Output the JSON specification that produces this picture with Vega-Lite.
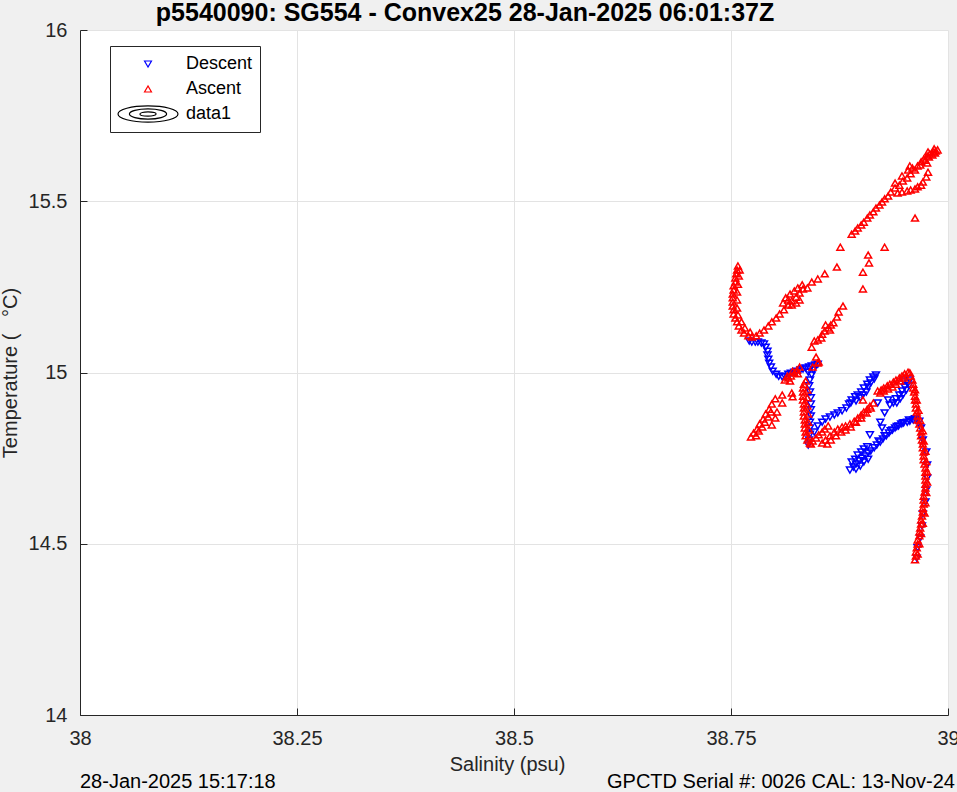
{
"$schema": "https://vega.github.io/schema/vega-lite/v6.json",
"width": 868, "height": 685,
"autosize": {"type": "none"},
"padding": {"left": 80, "top": 30, "right": 9, "bottom": 77},
"background": "#f0f0f0",
"config": {
  "font": "Liberation Sans",
  "view": {"stroke": null, "fill": "#ffffff"},
  "axis": {"labelFont": "Liberation Sans", "labelFontSize": 20, "labelColor": "#262626", "titleFont": "Liberation Sans", "titleFontSize": 20, "titleFontWeight": "normal", "titleColor": "#262626", "domainColor": "#262626", "domainWidth": 1, "tickColor": "#262626", "tickSize": -7, "tickWidth": 1, "gridColor": "#e3e3e3", "gridWidth": 1, "labelFlush": false, "labelOverlap": false, "labelPadding": 20}
},
"title": {"text": "p5540090: SG554 - Convex25 28-Jan-2025 06:01:37Z", "font": "Liberation Sans", "fontSize": 25, "fontWeight": "bold", "color": "#000000", "anchor": "middle", "frame": "group", "dx": -49, "dy": 12, "offset": 6},
"layer": [
{
"data": {"values": [
{"sal":38.771,"temp":15.092,"cast":"Descent"},{"sal":38.774,"temp":15.089,"cast":"Descent"},{"sal":38.778,"temp":15.089,"cast":"Descent"},{"sal":38.781,"temp":15.089,"cast":"Descent"},{"sal":38.785,"temp":15.086,"cast":"Descent"},{"sal":38.788,"temp":15.083,"cast":"Descent"},{"sal":38.790,"temp":15.074,"cast":"Descent"},{"sal":38.792,"temp":15.062,"cast":"Descent"},{"sal":38.792,"temp":15.051,"cast":"Descent"},{"sal":38.793,"temp":15.039,"cast":"Descent"},{"sal":38.794,"temp":15.027,"cast":"Descent"},{"sal":38.796,"temp":15.016,"cast":"Descent"},{"sal":38.798,"temp":15.004,"cast":"Descent"},{"sal":38.802,"temp":14.995,"cast":"Descent"},{"sal":38.805,"temp":14.989,"cast":"Descent"},{"sal":38.809,"temp":14.987,"cast":"Descent"},{"sal":38.812,"temp":14.989,"cast":"Descent"},{"sal":38.816,"temp":14.995,"cast":"Descent"},{"sal":38.819,"temp":14.998,"cast":"Descent"},{"sal":38.823,"temp":15.001,"cast":"Descent"},{"sal":38.826,"temp":15.004,"cast":"Descent"},{"sal":38.830,"temp":15.007,"cast":"Descent"},{"sal":38.833,"temp":15.010,"cast":"Descent"},{"sal":38.836,"temp":15.013,"cast":"Descent"},{"sal":38.840,"temp":15.016,"cast":"Descent"},{"sal":38.843,"temp":15.019,"cast":"Descent"},{"sal":38.847,"temp":15.022,"cast":"Descent"},{"sal":38.850,"temp":15.024,"cast":"Descent"},
{"sal":38.839,"temp":15.001,"cast":"Descent"},{"sal":38.843,"temp":14.993,"cast":"Descent"},{"sal":38.841,"temp":14.978,"cast":"Descent"},{"sal":38.845,"temp":15.007,"cast":"Descent"},{"sal":38.840,"temp":14.961,"cast":"Descent"},{"sal":38.841,"temp":14.943,"cast":"Descent"},{"sal":38.842,"temp":14.926,"cast":"Descent"},{"sal":38.842,"temp":14.908,"cast":"Descent"},{"sal":38.842,"temp":14.891,"cast":"Descent"},{"sal":38.842,"temp":14.873,"cast":"Descent"},{"sal":38.841,"temp":14.855,"cast":"Descent"},{"sal":38.841,"temp":14.838,"cast":"Descent"},{"sal":38.841,"temp":14.820,"cast":"Descent"},{"sal":38.840,"temp":14.803,"cast":"Descent"},{"sal":38.839,"temp":14.788,"cast":"Descent"},
{"sal":38.846,"temp":14.826,"cast":"Descent"},{"sal":38.850,"temp":14.844,"cast":"Descent"},{"sal":38.855,"temp":14.855,"cast":"Descent"},{"sal":38.859,"temp":14.864,"cast":"Descent"},{"sal":38.864,"temp":14.870,"cast":"Descent"},{"sal":38.869,"temp":14.876,"cast":"Descent"},{"sal":38.873,"temp":14.882,"cast":"Descent"},{"sal":38.878,"temp":14.888,"cast":"Descent"},{"sal":38.883,"temp":14.896,"cast":"Descent"},{"sal":38.886,"temp":14.908,"cast":"Descent"},{"sal":38.889,"temp":14.920,"cast":"Descent"},{"sal":38.893,"temp":14.929,"cast":"Descent"},{"sal":38.896,"temp":14.934,"cast":"Descent"},{"sal":38.900,"temp":14.943,"cast":"Descent"},{"sal":38.903,"temp":14.955,"cast":"Descent"},{"sal":38.907,"temp":14.966,"cast":"Descent"},{"sal":38.910,"temp":14.978,"cast":"Descent"},{"sal":38.914,"temp":14.987,"cast":"Descent"},{"sal":38.917,"temp":14.993,"cast":"Descent"},{"sal":38.888,"temp":14.911,"cast":"Descent"},{"sal":38.894,"temp":14.917,"cast":"Descent"},{"sal":38.899,"temp":14.926,"cast":"Descent"},{"sal":38.902,"temp":14.934,"cast":"Descent"},{"sal":38.906,"temp":14.943,"cast":"Descent"},{"sal":38.908,"temp":14.958,"cast":"Descent"},{"sal":38.911,"temp":14.969,"cast":"Descent"},{"sal":38.915,"temp":14.981,"cast":"Descent"},
{"sal":38.910,"temp":14.818,"cast":"Descent"},{"sal":38.922,"temp":14.855,"cast":"Descent"},{"sal":38.924,"temp":14.838,"cast":"Descent"},{"sal":38.927,"temp":14.882,"cast":"Descent"},{"sal":38.933,"temp":14.905,"cast":"Descent"},{"sal":38.931,"temp":14.920,"cast":"Descent"},{"sal":38.919,"temp":14.911,"cast":"Descent"},{"sal":38.907,"temp":14.783,"cast":"Descent"},
{"sal":38.937,"temp":14.911,"cast":"Descent"},{"sal":38.940,"temp":14.923,"cast":"Descent"},{"sal":38.944,"temp":14.934,"cast":"Descent"},{"sal":38.947,"temp":14.946,"cast":"Descent"},{"sal":38.950,"temp":14.958,"cast":"Descent"},{"sal":38.954,"temp":14.969,"cast":"Descent"},{"sal":38.941,"temp":14.911,"cast":"Descent"},{"sal":38.945,"temp":14.923,"cast":"Descent"},{"sal":38.948,"temp":14.934,"cast":"Descent"},{"sal":38.952,"temp":14.949,"cast":"Descent"},{"sal":38.955,"temp":14.961,"cast":"Descent"},{"sal":38.949,"temp":14.975,"cast":"Descent"},{"sal":38.956,"temp":14.978,"cast":"Descent"},
{"sal":38.887,"temp":14.715,"cast":"Descent"},{"sal":38.891,"temp":14.724,"cast":"Descent"},{"sal":38.894,"temp":14.733,"cast":"Descent"},{"sal":38.898,"temp":14.742,"cast":"Descent"},{"sal":38.901,"temp":14.750,"cast":"Descent"},{"sal":38.905,"temp":14.756,"cast":"Descent"},{"sal":38.908,"temp":14.765,"cast":"Descent"},{"sal":38.911,"temp":14.771,"cast":"Descent"},{"sal":38.915,"temp":14.780,"cast":"Descent"},{"sal":38.918,"temp":14.788,"cast":"Descent"},{"sal":38.922,"temp":14.797,"cast":"Descent"},{"sal":38.925,"temp":14.806,"cast":"Descent"},{"sal":38.929,"temp":14.815,"cast":"Descent"},{"sal":38.932,"temp":14.823,"cast":"Descent"},{"sal":38.936,"temp":14.832,"cast":"Descent"},{"sal":38.939,"temp":14.838,"cast":"Descent"},{"sal":38.943,"temp":14.844,"cast":"Descent"},{"sal":38.946,"temp":14.850,"cast":"Descent"},{"sal":38.949,"temp":14.853,"cast":"Descent"},{"sal":38.953,"temp":14.855,"cast":"Descent"},{"sal":38.956,"temp":14.858,"cast":"Descent"},{"sal":38.960,"temp":14.861,"cast":"Descent"},{"sal":38.963,"temp":14.861,"cast":"Descent"},{"sal":38.967,"temp":14.858,"cast":"Descent"},{"sal":38.889,"temp":14.739,"cast":"Descent"},{"sal":38.893,"temp":14.747,"cast":"Descent"},{"sal":38.896,"temp":14.759,"cast":"Descent"},{"sal":38.900,"temp":14.768,"cast":"Descent"},{"sal":38.903,"temp":14.777,"cast":"Descent"},{"sal":38.894,"temp":14.718,"cast":"Descent"},{"sal":38.899,"temp":14.727,"cast":"Descent"},{"sal":38.903,"temp":14.739,"cast":"Descent"},{"sal":38.908,"temp":14.747,"cast":"Descent"},
{"sal":38.920,"temp":14.800,"cast":"Descent"},{"sal":38.927,"temp":14.815,"cast":"Descent"},{"sal":38.934,"temp":14.830,"cast":"Descent"},{"sal":38.941,"temp":14.842,"cast":"Descent"},{"sal":38.948,"temp":14.852,"cast":"Descent"},{"sal":38.955,"temp":14.861,"cast":"Descent"},{"sal":38.962,"temp":14.865,"cast":"Descent"},
{"sal":38.969,"temp":14.838,"cast":"Descent"},{"sal":38.971,"temp":14.803,"cast":"Descent"},{"sal":38.975,"temp":14.768,"cast":"Descent"},{"sal":38.976,"temp":14.730,"cast":"Descent"},{"sal":38.976,"temp":14.692,"cast":"Descent"},{"sal":38.975,"temp":14.657,"cast":"Descent"},{"sal":38.974,"temp":14.622,"cast":"Descent"},{"sal":38.971,"temp":14.587,"cast":"Descent"},{"sal":38.970,"temp":14.552,"cast":"Descent"},{"sal":38.968,"temp":14.517,"cast":"Descent"},{"sal":38.965,"temp":14.488,"cast":"Descent"},{"sal":38.964,"temp":14.458,"cast":"Descent"},
{"sal":38.962,"temp":14.453,"cast":"Ascent"},{"sal":38.963,"temp":14.464,"cast":"Ascent"},{"sal":38.963,"temp":14.476,"cast":"Ascent"},{"sal":38.964,"temp":14.488,"cast":"Ascent"},{"sal":38.965,"temp":14.499,"cast":"Ascent"},{"sal":38.965,"temp":14.511,"cast":"Ascent"},{"sal":38.967,"temp":14.523,"cast":"Ascent"},{"sal":38.967,"temp":14.534,"cast":"Ascent"},{"sal":38.968,"temp":14.546,"cast":"Ascent"},{"sal":38.969,"temp":14.558,"cast":"Ascent"},{"sal":38.969,"temp":14.569,"cast":"Ascent"},{"sal":38.970,"temp":14.581,"cast":"Ascent"},{"sal":38.971,"temp":14.593,"cast":"Ascent"},{"sal":38.971,"temp":14.604,"cast":"Ascent"},{"sal":38.972,"temp":14.616,"cast":"Ascent"},{"sal":38.972,"temp":14.628,"cast":"Ascent"},{"sal":38.972,"temp":14.639,"cast":"Ascent"},{"sal":38.973,"temp":14.651,"cast":"Ascent"},{"sal":38.974,"temp":14.663,"cast":"Ascent"},{"sal":38.974,"temp":14.674,"cast":"Ascent"},{"sal":38.974,"temp":14.686,"cast":"Ascent"},{"sal":38.974,"temp":14.698,"cast":"Ascent"},{"sal":38.974,"temp":14.709,"cast":"Ascent"},{"sal":38.974,"temp":14.721,"cast":"Ascent"},{"sal":38.973,"temp":14.733,"cast":"Ascent"},{"sal":38.972,"temp":14.745,"cast":"Ascent"},{"sal":38.972,"temp":14.756,"cast":"Ascent"},{"sal":38.972,"temp":14.768,"cast":"Ascent"},{"sal":38.971,"temp":14.780,"cast":"Ascent"},{"sal":38.971,"temp":14.791,"cast":"Ascent"},{"sal":38.970,"temp":14.803,"cast":"Ascent"},{"sal":38.969,"temp":14.815,"cast":"Ascent"},{"sal":38.969,"temp":14.826,"cast":"Ascent"},{"sal":38.968,"temp":14.838,"cast":"Ascent"},{"sal":38.967,"temp":14.850,"cast":"Ascent"},{"sal":38.965,"temp":14.861,"cast":"Ascent"},{"sal":38.965,"temp":14.873,"cast":"Ascent"},{"sal":38.964,"temp":14.885,"cast":"Ascent"},{"sal":38.963,"temp":14.896,"cast":"Ascent"},{"sal":38.963,"temp":14.908,"cast":"Ascent"},{"sal":38.962,"temp":14.920,"cast":"Ascent"},{"sal":38.962,"temp":14.931,"cast":"Ascent"},{"sal":38.961,"temp":14.943,"cast":"Ascent"},{"sal":38.960,"temp":14.955,"cast":"Ascent"},{"sal":38.960,"temp":14.966,"cast":"Ascent"},{"sal":38.959,"temp":14.978,"cast":"Ascent"},{"sal":38.957,"temp":14.990,"cast":"Ascent"},{"sal":38.956,"temp":14.999,"cast":"Ascent"},{"sal":38.954,"temp":15.001,"cast":"Ascent"},
{"sal":38.965,"temp":14.470,"cast":"Ascent"},{"sal":38.967,"temp":14.500,"cast":"Ascent"},{"sal":38.969,"temp":14.530,"cast":"Ascent"},{"sal":38.971,"temp":14.560,"cast":"Ascent"},{"sal":38.973,"temp":14.590,"cast":"Ascent"},{"sal":38.974,"temp":14.620,"cast":"Ascent"},{"sal":38.975,"temp":14.650,"cast":"Ascent"},{"sal":38.976,"temp":14.680,"cast":"Ascent"},{"sal":38.976,"temp":14.710,"cast":"Ascent"},{"sal":38.975,"temp":14.740,"cast":"Ascent"},{"sal":38.974,"temp":14.770,"cast":"Ascent"},{"sal":38.972,"temp":14.800,"cast":"Ascent"},{"sal":38.971,"temp":14.830,"cast":"Ascent"},{"sal":38.968,"temp":14.860,"cast":"Ascent"},{"sal":38.966,"temp":14.890,"cast":"Ascent"},{"sal":38.964,"temp":14.920,"cast":"Ascent"},{"sal":38.962,"temp":14.950,"cast":"Ascent"},
{"sal":38.950,"temp":14.996,"cast":"Ascent"},{"sal":38.947,"temp":14.990,"cast":"Ascent"},{"sal":38.944,"temp":14.984,"cast":"Ascent"},{"sal":38.940,"temp":14.978,"cast":"Ascent"},{"sal":38.937,"temp":14.972,"cast":"Ascent"},{"sal":38.933,"temp":14.966,"cast":"Ascent"},{"sal":38.930,"temp":14.961,"cast":"Ascent"},{"sal":38.926,"temp":14.955,"cast":"Ascent"},{"sal":38.923,"temp":14.949,"cast":"Ascent"},{"sal":38.919,"temp":14.946,"cast":"Ascent"},{"sal":38.949,"temp":14.984,"cast":"Ascent"},{"sal":38.945,"temp":14.975,"cast":"Ascent"},{"sal":38.940,"temp":14.966,"cast":"Ascent"},{"sal":38.936,"temp":14.958,"cast":"Ascent"},{"sal":38.931,"temp":14.952,"cast":"Ascent"},{"sal":38.926,"temp":14.946,"cast":"Ascent"},{"sal":38.922,"temp":14.940,"cast":"Ascent"},{"sal":38.902,"temp":14.920,"cast":"Ascent"},
{"sal":38.914,"temp":14.911,"cast":"Ascent"},{"sal":38.910,"temp":14.902,"cast":"Ascent"},{"sal":38.907,"temp":14.893,"cast":"Ascent"},{"sal":38.903,"temp":14.885,"cast":"Ascent"},{"sal":38.900,"temp":14.876,"cast":"Ascent"},{"sal":38.896,"temp":14.867,"cast":"Ascent"},{"sal":38.892,"temp":14.858,"cast":"Ascent"},{"sal":38.887,"temp":14.850,"cast":"Ascent"},{"sal":38.882,"temp":14.844,"cast":"Ascent"},{"sal":38.878,"temp":14.841,"cast":"Ascent"},{"sal":38.873,"temp":14.835,"cast":"Ascent"},{"sal":38.869,"temp":14.826,"cast":"Ascent"},{"sal":38.864,"temp":14.815,"cast":"Ascent"},{"sal":38.859,"temp":14.803,"cast":"Ascent"},{"sal":38.855,"temp":14.794,"cast":"Ascent"},{"sal":38.911,"temp":14.896,"cast":"Ascent"},{"sal":38.906,"temp":14.882,"cast":"Ascent"},{"sal":38.900,"temp":14.867,"cast":"Ascent"},{"sal":38.894,"temp":14.855,"cast":"Ascent"},{"sal":38.888,"temp":14.841,"cast":"Ascent"},{"sal":38.882,"temp":14.832,"cast":"Ascent"},{"sal":38.877,"temp":14.826,"cast":"Ascent"},{"sal":38.871,"temp":14.815,"cast":"Ascent"},{"sal":38.865,"temp":14.803,"cast":"Ascent"},{"sal":38.861,"temp":14.791,"cast":"Ascent"},
{"sal":38.841,"temp":14.794,"cast":"Ascent"},{"sal":38.844,"temp":14.800,"cast":"Ascent"},{"sal":38.848,"temp":14.809,"cast":"Ascent"},{"sal":38.851,"temp":14.818,"cast":"Ascent"},{"sal":38.855,"temp":14.826,"cast":"Ascent"},{"sal":38.858,"temp":14.835,"cast":"Ascent"},{"sal":38.862,"temp":14.844,"cast":"Ascent"},{"sal":38.842,"temp":14.791,"cast":"Ascent"},
{"sal":38.838,"temp":14.803,"cast":"Ascent"},{"sal":38.836,"temp":14.815,"cast":"Ascent"},{"sal":38.836,"temp":14.826,"cast":"Ascent"},{"sal":38.835,"temp":14.838,"cast":"Ascent"},{"sal":38.835,"temp":14.850,"cast":"Ascent"},{"sal":38.835,"temp":14.861,"cast":"Ascent"},{"sal":38.834,"temp":14.873,"cast":"Ascent"},{"sal":38.834,"temp":14.885,"cast":"Ascent"},{"sal":38.834,"temp":14.896,"cast":"Ascent"},{"sal":38.834,"temp":14.908,"cast":"Ascent"},{"sal":38.833,"temp":14.920,"cast":"Ascent"},{"sal":38.833,"temp":14.931,"cast":"Ascent"},{"sal":38.833,"temp":14.943,"cast":"Ascent"},{"sal":38.833,"temp":14.955,"cast":"Ascent"},{"sal":38.834,"temp":14.966,"cast":"Ascent"},{"sal":38.836,"temp":14.975,"cast":"Ascent"},{"sal":38.840,"temp":14.809,"cast":"Ascent"},{"sal":38.840,"temp":14.832,"cast":"Ascent"},{"sal":38.839,"temp":14.855,"cast":"Ascent"},{"sal":38.839,"temp":14.879,"cast":"Ascent"},{"sal":38.838,"temp":14.902,"cast":"Ascent"},{"sal":38.838,"temp":14.926,"cast":"Ascent"},{"sal":38.838,"temp":14.949,"cast":"Ascent"},
{"sal":38.773,"temp":14.812,"cast":"Ascent"},{"sal":38.776,"temp":14.823,"cast":"Ascent"},{"sal":38.780,"temp":14.835,"cast":"Ascent"},{"sal":38.783,"temp":14.850,"cast":"Ascent"},{"sal":38.787,"temp":14.864,"cast":"Ascent"},{"sal":38.790,"temp":14.879,"cast":"Ascent"},{"sal":38.794,"temp":14.893,"cast":"Ascent"},{"sal":38.797,"temp":14.908,"cast":"Ascent"},{"sal":38.801,"temp":14.923,"cast":"Ascent"},{"sal":38.779,"temp":14.815,"cast":"Ascent"},{"sal":38.782,"temp":14.829,"cast":"Ascent"},{"sal":38.786,"temp":14.841,"cast":"Ascent"},{"sal":38.789,"temp":14.855,"cast":"Ascent"},{"sal":38.793,"temp":14.870,"cast":"Ascent"},{"sal":38.796,"temp":14.885,"cast":"Ascent"},{"sal":38.809,"temp":14.934,"cast":"Ascent"},{"sal":38.809,"temp":14.911,"cast":"Ascent"},{"sal":38.820,"temp":14.940,"cast":"Ascent"},{"sal":38.821,"temp":14.929,"cast":"Ascent"},{"sal":38.803,"temp":14.885,"cast":"Ascent"},{"sal":38.801,"temp":14.867,"cast":"Ascent"},{"sal":38.797,"temp":14.847,"cast":"Ascent"},
{"sal":38.812,"temp":14.978,"cast":"Ascent"},{"sal":38.816,"temp":14.984,"cast":"Ascent"},{"sal":38.819,"temp":14.990,"cast":"Ascent"},{"sal":38.823,"temp":14.999,"cast":"Ascent"},{"sal":38.826,"temp":15.007,"cast":"Ascent"},{"sal":38.829,"temp":15.016,"cast":"Ascent"},{"sal":38.815,"temp":14.990,"cast":"Ascent"},{"sal":38.821,"temp":15.004,"cast":"Ascent"},{"sal":38.818,"temp":14.975,"cast":"Ascent"},{"sal":38.827,"temp":14.996,"cast":"Ascent"},{"sal":38.850,"temp":15.028,"cast":"Ascent"},{"sal":38.844,"temp":15.016,"cast":"Ascent"},{"sal":38.848,"temp":15.045,"cast":"Ascent"},{"sal":38.851,"temp":15.031,"cast":"Ascent"},{"sal":38.843,"temp":15.074,"cast":"Ascent"},
{"sal":38.855,"temp":15.112,"cast":"Ascent"},{"sal":38.858,"temp":15.121,"cast":"Ascent"},{"sal":38.862,"temp":15.130,"cast":"Ascent"},{"sal":38.865,"temp":15.139,"cast":"Ascent"},{"sal":38.868,"temp":15.145,"cast":"Ascent"},{"sal":38.859,"temp":15.139,"cast":"Ascent"},{"sal":38.864,"temp":15.124,"cast":"Ascent"},{"sal":38.846,"temp":15.092,"cast":"Ascent"},{"sal":38.850,"temp":15.095,"cast":"Ascent"},{"sal":38.854,"temp":15.101,"cast":"Ascent"},{"sal":38.872,"temp":15.162,"cast":"Ascent"},{"sal":38.874,"temp":15.177,"cast":"Ascent"},{"sal":38.879,"temp":15.194,"cast":"Ascent"},{"sal":38.902,"temp":15.244,"cast":"Ascent"},{"sal":38.876,"temp":15.366,"cast":"Ascent"},{"sal":38.908,"temp":15.343,"cast":"Ascent"},{"sal":38.909,"temp":15.320,"cast":"Ascent"},{"sal":38.902,"temp":15.293,"cast":"Ascent"},{"sal":38.927,"temp":15.366,"cast":"Ascent"},{"sal":38.962,"temp":15.451,"cast":"Ascent"},{"sal":38.872,"temp":15.308,"cast":"Ascent"},{"sal":38.858,"temp":15.288,"cast":"Ascent"},{"sal":38.850,"temp":15.273,"cast":"Ascent"},{"sal":38.843,"temp":15.264,"cast":"Ascent"},{"sal":38.838,"temp":15.247,"cast":"Ascent"},
{"sal":38.758,"temp":15.311,"cast":"Ascent"},{"sal":38.757,"temp":15.299,"cast":"Ascent"},{"sal":38.756,"temp":15.288,"cast":"Ascent"},{"sal":38.755,"temp":15.276,"cast":"Ascent"},{"sal":38.755,"temp":15.264,"cast":"Ascent"},{"sal":38.753,"temp":15.253,"cast":"Ascent"},{"sal":38.753,"temp":15.241,"cast":"Ascent"},{"sal":38.752,"temp":15.229,"cast":"Ascent"},{"sal":38.752,"temp":15.218,"cast":"Ascent"},{"sal":38.752,"temp":15.206,"cast":"Ascent"},{"sal":38.752,"temp":15.194,"cast":"Ascent"},{"sal":38.753,"temp":15.183,"cast":"Ascent"},{"sal":38.753,"temp":15.171,"cast":"Ascent"},{"sal":38.755,"temp":15.159,"cast":"Ascent"},{"sal":38.757,"temp":15.148,"cast":"Ascent"},{"sal":38.759,"temp":15.136,"cast":"Ascent"},{"sal":38.762,"temp":15.124,"cast":"Ascent"},{"sal":38.765,"temp":15.115,"cast":"Ascent"},{"sal":38.770,"temp":15.107,"cast":"Ascent"},{"sal":38.774,"temp":15.104,"cast":"Ascent"},{"sal":38.779,"temp":15.107,"cast":"Ascent"},{"sal":38.760,"temp":15.299,"cast":"Ascent"},{"sal":38.759,"temp":15.282,"cast":"Ascent"},{"sal":38.758,"temp":15.258,"cast":"Ascent"},{"sal":38.757,"temp":15.235,"cast":"Ascent"},{"sal":38.757,"temp":15.212,"cast":"Ascent"},{"sal":38.757,"temp":15.188,"cast":"Ascent"},{"sal":38.758,"temp":15.168,"cast":"Ascent"},{"sal":38.762,"temp":15.148,"cast":"Ascent"},{"sal":38.766,"temp":15.130,"cast":"Ascent"},{"sal":38.772,"temp":15.118,"cast":"Ascent"},
{"sal":38.783,"temp":15.115,"cast":"Ascent"},{"sal":38.788,"temp":15.124,"cast":"Ascent"},{"sal":38.793,"temp":15.136,"cast":"Ascent"},{"sal":38.797,"temp":15.148,"cast":"Ascent"},{"sal":38.802,"temp":15.159,"cast":"Ascent"},{"sal":38.806,"temp":15.171,"cast":"Ascent"},{"sal":38.811,"temp":15.183,"cast":"Ascent"},{"sal":38.816,"temp":15.197,"cast":"Ascent"},{"sal":38.820,"temp":15.209,"cast":"Ascent"},{"sal":38.825,"temp":15.220,"cast":"Ascent"},{"sal":38.829,"temp":15.232,"cast":"Ascent"},{"sal":38.833,"temp":15.244,"cast":"Ascent"},{"sal":38.813,"temp":15.218,"cast":"Ascent"},{"sal":38.818,"temp":15.229,"cast":"Ascent"},{"sal":38.823,"temp":15.238,"cast":"Ascent"},{"sal":38.827,"temp":15.247,"cast":"Ascent"},{"sal":38.832,"temp":15.256,"cast":"Ascent"},{"sal":38.820,"temp":15.197,"cast":"Ascent"},{"sal":38.825,"temp":15.203,"cast":"Ascent"},{"sal":38.810,"temp":15.203,"cast":"Ascent"},{"sal":38.829,"temp":15.212,"cast":"Ascent"},{"sal":38.816,"temp":15.212,"cast":"Ascent"},
{"sal":38.889,"temp":15.404,"cast":"Ascent"},{"sal":38.893,"temp":15.413,"cast":"Ascent"},{"sal":38.896,"temp":15.422,"cast":"Ascent"},{"sal":38.900,"temp":15.431,"cast":"Ascent"},{"sal":38.903,"temp":15.439,"cast":"Ascent"},{"sal":38.907,"temp":15.451,"cast":"Ascent"},{"sal":38.910,"temp":15.460,"cast":"Ascent"},{"sal":38.914,"temp":15.469,"cast":"Ascent"},{"sal":38.917,"temp":15.480,"cast":"Ascent"},{"sal":38.921,"temp":15.489,"cast":"Ascent"},{"sal":38.924,"temp":15.498,"cast":"Ascent"},{"sal":38.927,"temp":15.507,"cast":"Ascent"},{"sal":38.931,"temp":15.515,"cast":"Ascent"},{"sal":38.934,"temp":15.527,"cast":"Ascent"},{"sal":38.939,"temp":15.539,"cast":"Ascent"},{"sal":38.944,"temp":15.547,"cast":"Ascent"},{"sal":38.948,"temp":15.559,"cast":"Ascent"},{"sal":38.953,"temp":15.568,"cast":"Ascent"},{"sal":38.957,"temp":15.580,"cast":"Ascent"},{"sal":38.962,"temp":15.591,"cast":"Ascent"},{"sal":38.965,"temp":15.603,"cast":"Ascent"},{"sal":38.969,"temp":15.615,"cast":"Ascent"},{"sal":38.972,"temp":15.623,"cast":"Ascent"},{"sal":38.976,"temp":15.632,"cast":"Ascent"},{"sal":38.979,"temp":15.638,"cast":"Ascent"},{"sal":38.983,"temp":15.644,"cast":"Ascent"},{"sal":38.986,"temp":15.647,"cast":"Ascent"},{"sal":38.974,"temp":15.620,"cast":"Ascent"},{"sal":38.978,"temp":15.629,"cast":"Ascent"},{"sal":38.982,"temp":15.635,"cast":"Ascent"},{"sal":38.985,"temp":15.641,"cast":"Ascent"},{"sal":38.968,"temp":15.606,"cast":"Ascent"},{"sal":38.959,"temp":15.597,"cast":"Ascent"},{"sal":38.977,"temp":15.644,"cast":"Ascent"},{"sal":38.988,"temp":15.650,"cast":"Ascent"},{"sal":38.984,"temp":15.653,"cast":"Ascent"},
{"sal":38.942,"temp":15.524,"cast":"Ascent"},{"sal":38.947,"temp":15.527,"cast":"Ascent"},{"sal":38.953,"temp":15.530,"cast":"Ascent"},{"sal":38.957,"temp":15.533,"cast":"Ascent"},{"sal":38.962,"temp":15.536,"cast":"Ascent"},{"sal":38.965,"temp":15.542,"cast":"Ascent"},{"sal":38.969,"temp":15.547,"cast":"Ascent"},{"sal":38.971,"temp":15.556,"cast":"Ascent"},{"sal":38.975,"temp":15.571,"cast":"Ascent"},{"sal":38.977,"temp":15.585,"cast":"Ascent"},{"sal":38.976,"temp":15.612,"cast":"Ascent"},{"sal":38.939,"temp":15.553,"cast":"Ascent"},{"sal":38.947,"temp":15.574,"cast":"Ascent"},{"sal":38.954,"temp":15.591,"cast":"Ascent"},{"sal":38.956,"temp":15.603,"cast":"Ascent"}
]},
"mark": {"type": "point", "filled": false, "strokeWidth": 1.5, "opacity": 1},
"encoding": {
  "x": {"field": "sal", "type": "quantitative", "scale": {"domain": [38, 39], "nice": false, "zero": false}, "axis": {"values": [38, 38.25, 38.5, 38.75, 39], "format": "~g", "title": "Salinity (psu)", "titlePadding": 6, "titleX": 427}},
  "y": {"field": "temp", "type": "quantitative", "scale": {"domain": [14, 16], "nice": false, "zero": false}, "axis": {"values": [14, 14.5, 15, 15.5, 16], "format": "~g", "title": "Temperature (\u00a0\u00a0\u00a0°C)", "titlePadding": 8}},
  "color": {"field": "cast", "type": "nominal", "scale": {"domain": ["Descent", "Ascent", "data1"], "range": ["#0000ff", "#ff0000", "#000000"]},
    "legend": {"orient": "none", "legendX": 30, "legendY": 16, "title": null, "padding": 7, "strokeColor": "#262626", "fillColor": "#ffffff", "labelFont": "Liberation Sans", "labelFontSize": 18, "labelColor": "#000000", "clipHeight": 22, "rowPadding": 3, "labelOffset": 7, "symbolStrokeWidth": 1.2, "labelExpr": "datum.label + '\u00a0\u00a0\u00a0'"}},
  "shape": {"field": "cast", "type": "nominal", "scale": {"domain": ["Descent", "Ascent", "data1"], "range": ["triangle-down", "triangle-up", "M-1,0A1,0.27 0 1,0 1,0A1,0.27 0 1,0 -1,0M-0.62,0A0.62,0.17 0 1,0 0.62,0A0.62,0.17 0 1,0 -0.62,0M-0.27,0A0.27,0.07 0 1,0 0.27,0A0.27,0.07 0 1,0 -0.27,0"]},
    "legend": {"orient": "none", "legendX": 30, "legendY": 16, "title": null, "padding": 7, "strokeColor": "#262626", "fillColor": "#ffffff", "labelFont": "Liberation Sans", "labelFontSize": 18, "labelColor": "#000000", "clipHeight": 22, "rowPadding": 3, "labelOffset": 7, "symbolStrokeWidth": 1.2, "labelExpr": "datum.label + '\u00a0\u00a0\u00a0'"}},
  "size": {"field": "cast", "type": "nominal", "scale": {"type": "ordinal", "domain": ["Descent", "Ascent", "data1"], "range": [48, 48, 3600]},
    "legend": {"orient": "none", "legendX": 30, "legendY": 16, "title": null, "padding": 7, "strokeColor": "#262626", "fillColor": "#ffffff", "labelFont": "Liberation Sans", "labelFontSize": 18, "labelColor": "#000000", "clipHeight": 22, "rowPadding": 3, "labelOffset": 7, "symbolStrokeWidth": 1.2, "labelExpr": "datum.label + '\u00a0\u00a0\u00a0'"}}
}
},
{
"data": {"values": [{}]},
"mark": {"type": "text", "align": "left", "baseline": "alphabetic", "font": "Liberation Sans", "fontSize": 20, "color": "#000000"},
"encoding": {"x": {"datum": 38, "type": "quantitative"}, "y": {"datum": 13.787, "type": "quantitative"}, "text": {"value": "28-Jan-2025 15:17:18"}}
},
{
"data": {"values": [{}]},
"mark": {"type": "text", "align": "right", "baseline": "alphabetic", "font": "Liberation Sans", "fontSize": 20, "color": "#000000"},
"encoding": {"x": {"datum": 39.008, "type": "quantitative"}, "y": {"datum": 13.787, "type": "quantitative"}, "text": {"value": "GPCTD Serial #: 0026 CAL: 13-Nov-24"}}
}
]
}
